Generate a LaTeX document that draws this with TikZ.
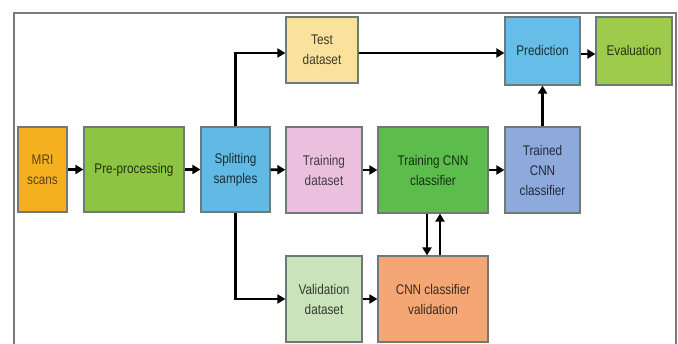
\documentclass[tikz,border=0pt]{standalone}
\usepackage{fontspec}
\setmainfont{Liberation Sans}[FakeStretch=0.84]
\usetikzlibrary{arrows.meta}
\definecolor{cMRI}{HTML}{F5B020}
\definecolor{cPre}{HTML}{8DC543}
\definecolor{cSplit}{HTML}{62B9E4}
\definecolor{cTest}{HTML}{FAE29C}
\definecolor{cTrD}{HTML}{EAC0DE}
\definecolor{cTCNN}{HTML}{5CBD4C}
\definecolor{cTrained}{HTML}{8EA9DC}
\definecolor{cPred}{HTML}{66BEE8}
\definecolor{cEval}{HTML}{9ECB4C}
\definecolor{cVal}{HTML}{CBE3BA}
\definecolor{cCval}{HTML}{F4A774}
\definecolor{frameg}{HTML}{7A7A7A}
\definecolor{boxg}{HTML}{6E7A78}
\definecolor{tMRI}{HTML}{5A4318}
\tikzset{
  box/.style={draw=boxg, line width=1.2pt, inner sep=0pt, align=center,
    font=\fontsize{14}{20}\selectfont},
  arr/.style={line width=2.8pt, -{Triangle[length=8pt,width=9pt]}}
}
\begin{document}
\begin{tikzpicture}[x=1pt,y=-1pt]
\useasboundingbox (0,0) rectangle (678,344);
\draw[frameg, line width=2pt] (14,346) -- (14,13) -- (676,13) -- (676,346);
\node[box, fill=cMRI, text=tMRI, minimum width=49pt, minimum height=85pt] (mri) at (42.5,169.5) {MRI\\scans};
\node[box, fill=cPre, text=cPre!25!black, minimum width=100pt, minimum height=85pt] (pre) at (134,169.5) {Pre-processing};
\node[box, fill=cSplit, text=cSplit!25!black, minimum width=69pt, minimum height=85pt] (split) at (235.5,169.5) {Splitting\\samples};
\node[box, fill=cTest, text=cTest!25!black, minimum width=72pt, minimum height=66pt] (test) at (322,50) {Test\\dataset};
\node[box, fill=cTrD, text=cTrD!30!black, minimum width=76pt, minimum height=86pt] (trd) at (324,170) {Training\\dataset};
\node[box, fill=cTCNN, text=cTCNN!25!black, minimum width=110pt, minimum height=86pt] (tcnn) at (433,170) {Training CNN\\classifier};
\node[box, fill=cTrained, text=cTrained!25!black, minimum width=75pt, minimum height=86pt] (trained) at (542.5,170) {Trained\\CNN\\classifier};
\node[box, fill=cPred, text=cPred!25!black, minimum width=75pt, minimum height=68pt] (pred) at (542.5,51) {Prediction};
\node[box, fill=cEval, text=cEval!25!black, minimum width=76pt, minimum height=68pt] (eval) at (634,51) {Evaluation};
\node[box, fill=cVal, text=cVal!25!black, minimum width=76pt, minimum height=86pt] (val) at (324,299) {Validation\\dataset};
\node[box, fill=cCval, text=cCval!25!black, minimum width=110pt, minimum height=86pt] (cval) at (433,299) {CNN classifier\\validation};
\draw[arr] (mri) -- (pre);
\draw[arr] (pre) -- (split);
\draw[arr] (split) -- (trd);
\draw[arr] (trd) -- (tcnn);
\draw[arr] (tcnn) -- (trained);
\draw[arr] (split.north) |- ([yshift=-3pt]test.west);
\draw[arr] ([yshift=-3pt]test.east) -- ([yshift=-3pt]test.east -| pred.west);
\draw[arr] ([yshift=-3pt]pred.east) -- ([yshift=-3pt]eval.west);
\draw[arr] (trained) -- (pred);
\draw[arr] (split.south) |- (val.west);
\draw[arr] (val) -- (cval);
\draw[arr] ([xshift=-6pt]tcnn.south) -- ([xshift=-6pt]cval.north);
\draw[arr] ([xshift=7pt]cval.north) -- ([xshift=7pt]tcnn.south);
\end{tikzpicture}
\end{document}
